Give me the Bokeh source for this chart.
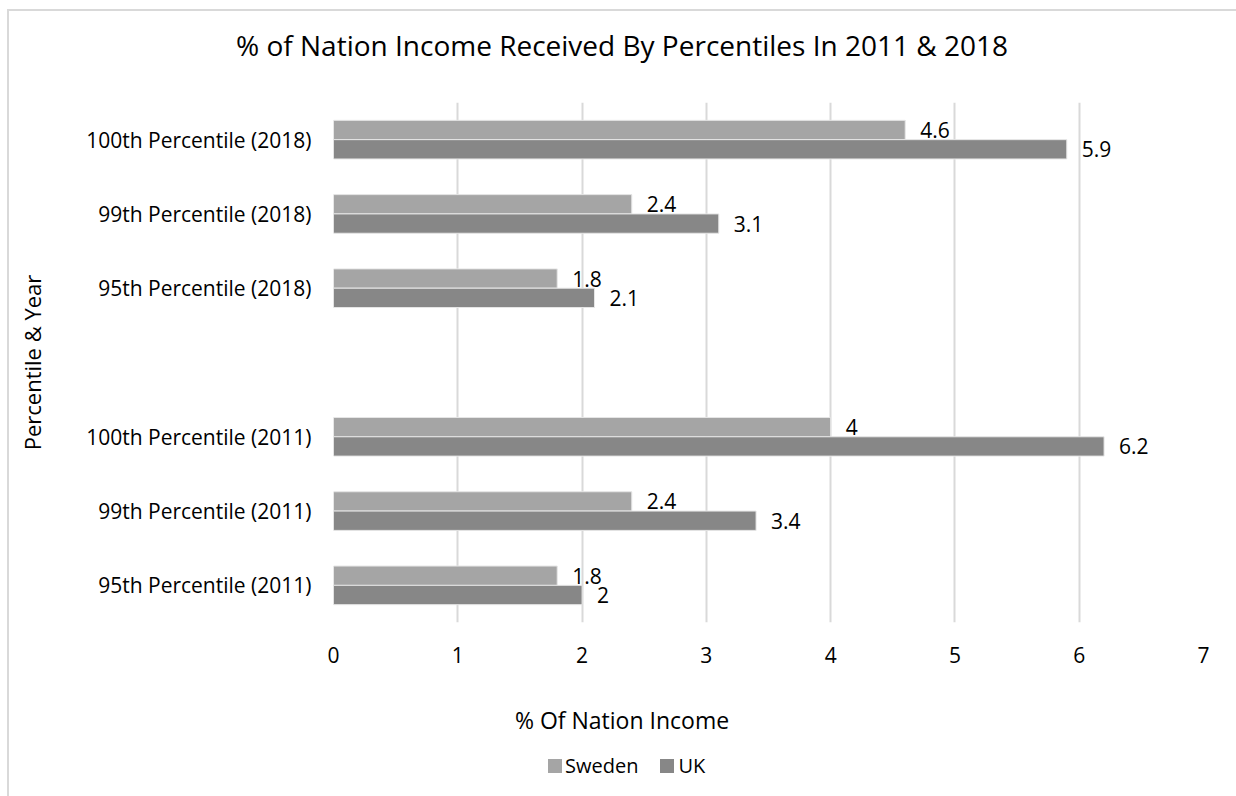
from bokeh.plotting import figure
from bokeh.layouts import column
from bokeh.models import (ColumnDataSource, FactorRange, Range1d, FixedTicker, Div)
from bokeh.transform import dodge
from bokeh.core.properties import value
from bokeh.embed import file_html
from bokeh.resources import INLINE

# ---- data ----
factors = ["95th Percentile (2011)", "99th Percentile (2011)", "100th Percentile (2011)", " ",
           "95th Percentile (2018)", "99th Percentile (2018)", "100th Percentile (2018)"]
bar_categories = ["95th Percentile (2011)", "99th Percentile (2011)", "100th Percentile (2011)",
                  "95th Percentile (2018)", "99th Percentile (2018)", "100th Percentile (2018)"]
sweden = [1.8, 2.4, 4.0, 1.8, 2.4, 4.6]
uk = [2.0, 3.4, 6.2, 2.1, 3.1, 5.9]
x_ticks = [0, 1, 2, 3, 4, 5, 6, 7]
series_names = ["Sweden", "UK"]
chart_title = "% of Nation Income Received By Percentiles In 2011 & 2018"
x_title = "% Of Nation Income"
y_title = "Percentile & Year"

FONT = "Open Sans"
SWE_COLOR = "#a5a5a5"
UK_COLOR = "#878787"
series_colors = [SWE_COLOR, UK_COLOR]

src = ColumnDataSource(dict(
    cat=bar_categories,
    sweden=sweden,
    uk=uk,
    sweden_lbl=[f"{v:g}" for v in sweden],
    uk_lbl=[f"{v:g}" for v in uk],
))

title_div = Div(
    text=(
        '<div style="position:absolute; left:7px; top:9px; width:1229px; height:787px; '
        'border-left:2px solid #d9d9d9; border-top:2px solid #d9d9d9; box-sizing:border-box;"></div>'
        f'<div style="position:absolute; left:0px; width:1244px; top:26px; text-align:center; '
        f'font-family:\'Open Sans\'; font-size:28px; line-height:38px; color:#000; white-space:nowrap;">'
        f'{chart_title}</div>'
    ),
    width=1236, height=90, margin=0,
    styles={"overflow": "visible", "position": "relative"},
)

p = figure(frame_width=870, frame_height=520,
           y_range=FactorRange(factors=factors, range_padding=0),
           x_range=Range1d(0, 7),
           output_backend="svg", toolbar_location=None,
           min_border_left=333, min_border_right=33,
           min_border_top=12, min_border_bottom=80, margin=0)

p.outline_line_color = None
p.background_fill_color = "white"
p.border_fill_color = None

r_swe = p.hbar(y=dodge("cat", 0.13, range=p.y_range), right="sweden", left=0, height=0.26,
               fill_color=SWE_COLOR, line_color="#e6e6e6", line_width=1, source=src)
r_uk = p.hbar(y=dodge("cat", -0.13, range=p.y_range), right="uk", left=0, height=0.26,
              fill_color=UK_COLOR, line_color="#e6e6e6", line_width=1, source=src)

p.text(x="sweden", y=dodge("cat", 0.13, range=p.y_range), text="sweden_lbl", source=src,
       x_offset=15, text_baseline="middle", text_align="left",
       text_font=value(FONT), text_font_size="21px", text_color="#000000")
p.text(x="uk", y=dodge("cat", -0.13, range=p.y_range), text="uk_lbl", source=src,
       x_offset=15, text_baseline="middle", text_align="left",
       text_font=value(FONT), text_font_size="21px", text_color="#000000")

# grid
p.ygrid.grid_line_color = None
p.xgrid.grid_line_color = "#d9d9d9"
p.xgrid.grid_line_width = 2
p.xaxis.ticker = FixedTicker(ticks=x_ticks)

# axes
for ax in (p.xaxis[0], p.yaxis[0]):
    ax.axis_line_color = None
    ax.major_tick_line_color = None
    ax.minor_tick_line_color = None
    ax.major_tick_out = 0
    ax.major_tick_in = 0
    ax.major_label_text_font = FONT
    ax.major_label_text_font_size = "21px"
    ax.major_label_text_color = "#000000"
    ax.axis_label_text_font = FONT
    ax.axis_label_text_font_size = "22px"
    ax.axis_label_text_font_style = "normal"
    ax.axis_label_text_color = "#000000"

p.xaxis.major_label_standoff = 24
p.yaxis.axis_label = y_title
p.yaxis.major_label_standoff = 22
p.yaxis.axis_label_standoff = 36

# x-axis title and legend (below the plot)
legend_html = (
    f'<span style="display:inline-block; width:14px; height:14px; background:{series_colors[0]}; '
    f'vertical-align:middle; margin-right:3px;"></span>'
    f'<span style="vertical-align:middle;">{series_names[0]}</span>'
    f'<span style="display:inline-block; width:22px;"></span>'
    f'<span style="display:inline-block; width:14px; height:14px; background:{series_colors[1]}; '
    f'vertical-align:middle; margin-right:4px;"></span>'
    f'<span style="vertical-align:middle;">{series_names[1]}</span>'
)
bottom_div = Div(
    text=(
        f'<div style="position:absolute; left:0px; width:1244px; top:2px; text-align:center; '
        f'font-family:\'Open Sans\'; font-size:23px; line-height:32px; color:#000; white-space:nowrap;">'
        f'{x_title}</div>'
        f'<div style="position:absolute; left:548px; top:48px; font-family:\'Open Sans\'; '
        f'font-size:20px; line-height:28px; color:#000; white-space:nowrap;">{legend_html}</div>'
    ),
    width=1236, height=94, margin=0,
    styles={"overflow": "visible", "position": "relative"},
)

layout = column(title_div, p, bottom_div, spacing=0, margin=0)
open("out.html", "w").write(file_html(layout, INLINE))
